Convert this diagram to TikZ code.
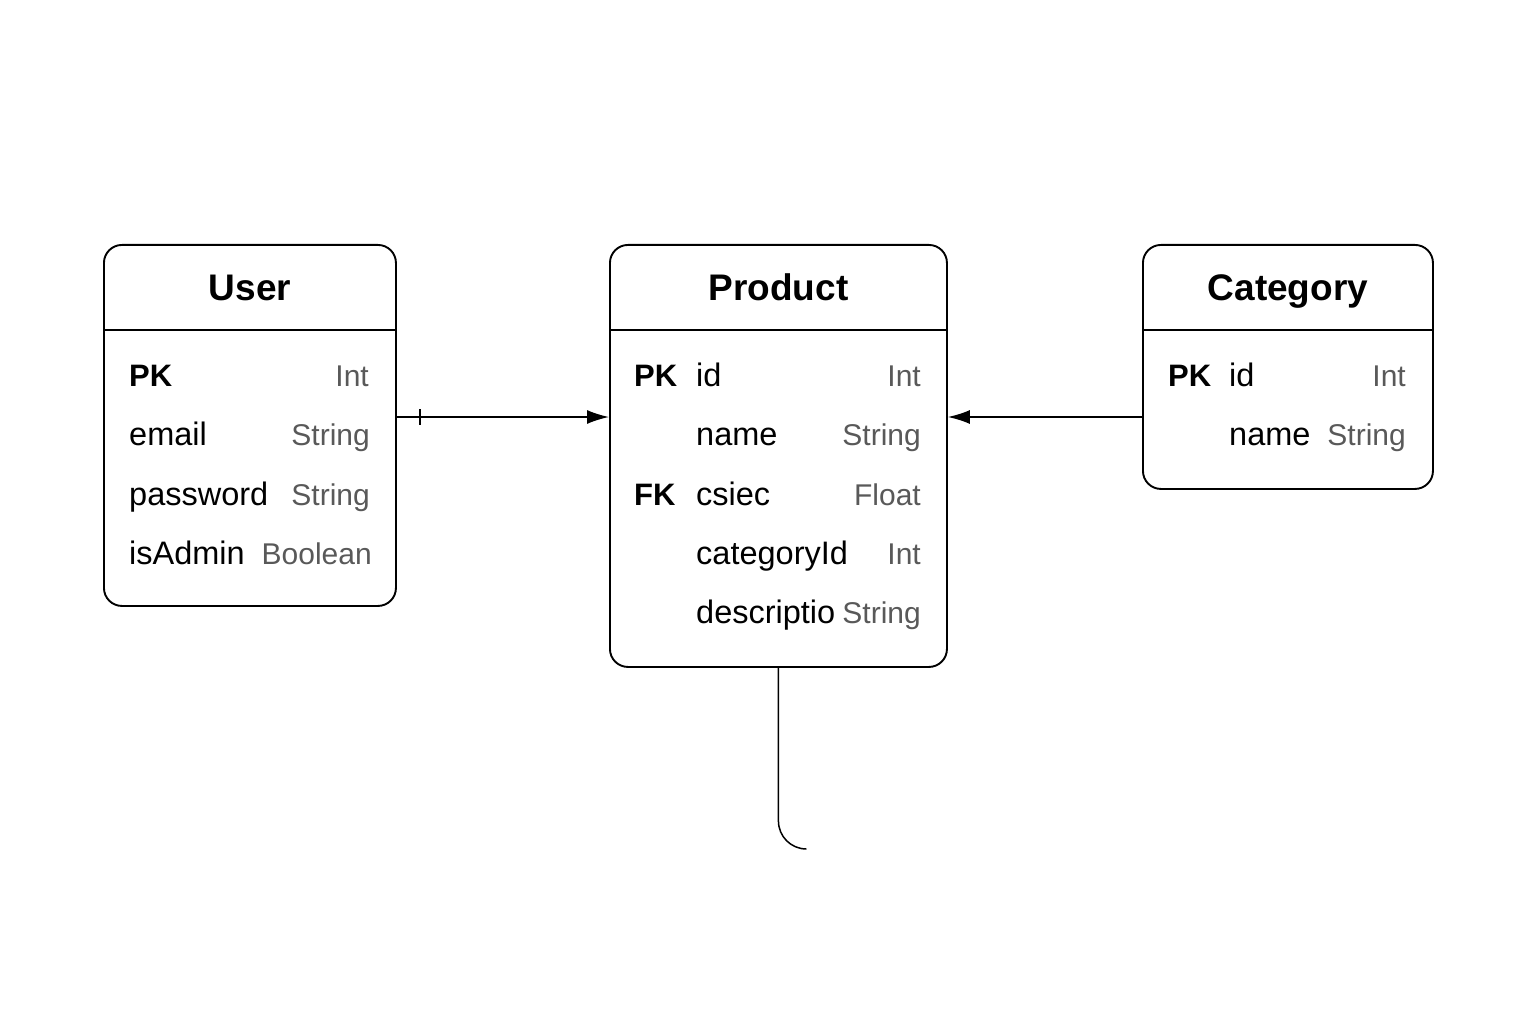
\documentclass[tikz,border=0pt]{standalone}
\usepackage{fontspec}
\setmainfont{Liberation Sans}
\usepackage{tikz}
\usetikzlibrary{positioning,arrows.meta}
\usepackage{xcolor}

\begin{document}
\begin{tikzpicture}[x=1pt, y=-1pt,
    entity/.style={
        draw=black,
        line width=1.9pt,
        rectangle,
        rounded corners=18pt,
        anchor=north west,
        inner sep=0pt
    },
    divider/.style={
        draw=black,
        line width=1.6pt
    },
    title/.style={
        font=\fontsize{37}{42}\selectfont\bfseries,
        anchor=base,
        inner sep=0pt
    },
    key/.style={
        font=\fontsize{31}{36}\selectfont\bfseries,
        anchor=base west,
        inner sep=0pt
    },
    field/.style={
        font=\fontsize{32.5}{38}\selectfont,
        anchor=base west,
        inner sep=0pt
    },
    type/.style={
        font=\fontsize{30}{36}\selectfont,
        text=black!65,
        anchor=base east,
        inner sep=0pt
    },
    link/.style={
        -{Latex[length=22pt,width=14pt]},
        line width=1.5pt,
        black
    },
    tail/.style={
        line width=1.5pt,
        black,
        rounded corners=28pt
    }
]
    % canvas
    \useasboundingbox (0,0) rectangle (1536,1024);

    % User entity
    \node[entity, minimum width=292pt, minimum height=361pt] (user) at (103,244) {};
    \draw[divider] (user.west |- 0,330) -- (user.east |- 0,330);
    \node[title] (usertitle) at (user.north |- 0,301) {User};
    \node[key] (userpk) at (129,386) {PK};
    \node[type] (userpkt) at (369,386) {Int};
    \node[field] (useremail) at (129,445) {email};
    \node[type] (useremailt) at (370,445) {String};
    \node[field] (userpass) at (129,505) {password};
    \node[type] (userpasst) at (370,505) {String};
    \node[field] (useradmin) at (129,564) {isAdmin};
    \node[type] (useradmint) at (372,564) {Boolean};

    % Product entity
    \node[entity, minimum width=337pt, minimum height=422pt] (product) at (609,244) {};
    \draw[divider] (product.west |- 0,330) -- (product.east |- 0,330);
    \node[title] (producttitle) at (product.north |- 0,301) {Product};
    \node[key] (productpk) at (634,386) {PK};
    \node[field] (productid) at (696,386) {id};
    \node[type] (productidt) at (921,386) {Int};
    \node[field] (productname) at (696,445) {name};
    \node[type] (productnamet) at (921,445) {String};
    \node[key] (productfk) at (634,505) {FK};
    \node[field] (productprice) at (696,505) {csiec};
    \node[type] (productpricet) at (921,505) {Float};
    \node[field] (productcat) at (696,564) {categoryId};
    \node[type] (productcatt) at (921,564) {Int};
    \node[field] (productdesc) at (696,623) {descriptio};
    \node[type] (productdesct) at (921,623) {String};

    % Category entity
    \node[entity, minimum width=290pt, minimum height=244pt] (category) at (1142,244) {};
    \draw[divider] (category.west |- 0,330) -- (category.east |- 0,330);
    \node[title] (categorytitle) at (category.north |- 0,301) {Category};
    \node[key] (categorypk) at (1168,386) {PK};
    \node[field] (categoryid) at (1229,386) {id};
    \node[type] (categoryidt) at (1406,386) {Int};
    \node[field] (categoryname) at (1229,445) {name};
    \node[type] (categorynamet) at (1406,445) {String};

    % connector anchors
    \coordinate (userout) at (user.east |- 0,417);
    \coordinate (productin) at (product.west |- 0,417);
    \coordinate (productright) at (product.east |- 0,417);
    \coordinate (categoryout) at (category.west |- 0,417);
    \coordinate (tailend) at (806,849);

    % relations
    \draw[link] (userout) -- (productin);
    \draw[line width=1.5pt] ([xshift=23pt]userout) ++(0,-8) -- ++(0,16);
    \draw[link] (categoryout) -- (productright);
    \draw[tail] (product.south) |- (tailend);
\end{tikzpicture}
\end{document}
